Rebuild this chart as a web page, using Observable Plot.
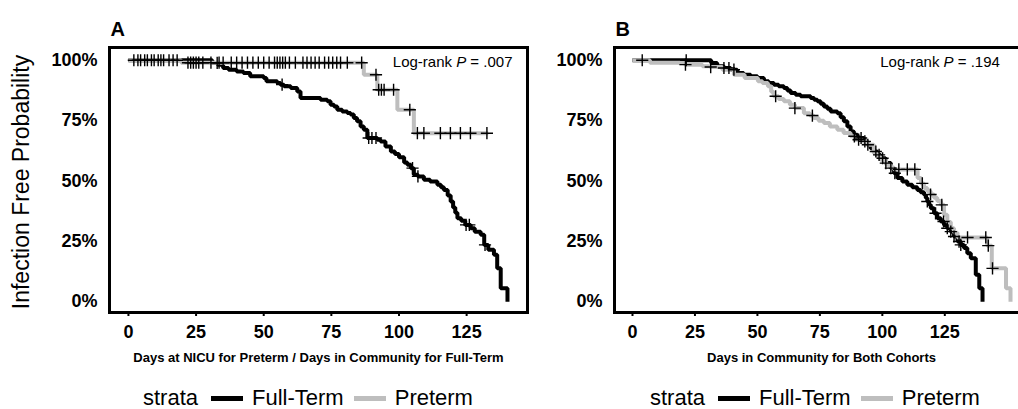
<!DOCTYPE html>
<html><head><meta charset="utf-8">
<script src="https://cdn.jsdelivr.net/npm/d3@7"></script>
<script src="https://cdn.jsdelivr.net/npm/@observablehq/plot@0.6"></script>
<style>
body{margin:0;background:#fff;}
#root{position:relative;width:1018px;height:409px;overflow:hidden;background:#fff;font-family:'Liberation Sans',Arial,sans-serif;}
.panel{position:absolute;top:0;}
.legend{position:absolute;top:387px;height:22px;line-height:22px;font-size:22px;display:flex;align-items:center;white-space:nowrap;color:#000;}
.sw{display:inline-block;width:32px;height:5px;}
.ytitle{position:absolute;left:20.5px;top:182px;font-size:23px;line-height:23px;white-space:nowrap;color:#000;transform:translate(-50%,-50%) rotate(-90deg);}
</style></head><body><div id="root"></div>
<script>
// ---------- data ----------
const strata = ["Full-Term", "Preterm"];
const xTicks = [0, 25, 50, 75, 100, 125];
const yTicks = [0, 0.25, 0.5, 0.75, 1];
const panelLetters = ["A", "B"];
const logRankA = "Log-rank P = .007";
const logRankB = "Log-rank P = .194";
const xTitleA = "Days at NICU for Preterm / Days in Community for Full-Term";
const xTitleB = "Days in Community for Both Cohorts";
const yTitle = "Infection Free Probability";

// Panel A — Full-Term
const ftA_time = [0,31,33,35,37,40,42.5,45,50,51,55,56.2,57.5,60,62.4,63.6,71,73.5,74.7,76,77.2,79,80.9,82.1,83.3,84.5,85.8,87,88.3,92,93.2,95,97,98.5,100,101.9,103.1,104.4,105.5,107,109.2,111.5,114.2,115.5,116.6,118,119.1,120,120.8,121.6,123,124.5,126.5,128,130.2,131.5,133,135.1,136.3,137.6,140.1];
const ftA_surv = [1,0.989,0.982,0.968,0.961,0.954,0.947,0.934,0.927,0.913,0.906,0.899,0.892,0.885,0.871,0.844,0.837,0.83,0.816,0.809,0.795,0.788,0.782,0.775,0.761,0.747,0.726,0.712,0.678,0.671,0.664,0.643,0.622,0.612,0.598,0.577,0.567,0.553,0.526,0.519,0.505,0.498,0.484,0.474,0.463,0.44,0.415,0.39,0.368,0.346,0.335,0.318,0.304,0.29,0.277,0.235,0.215,0.194,0.138,0.055,0];
const ftA_censor = [32.8,56.8,88.8,90,91.5,105,107,124.8,126,131.8];
// Panel A — Preterm
const ptA_time = [0,19.5,87,92,99.4,105.5,133];
const ptA_surv = [1,0.99,0.94,0.878,0.795,0.698,0.698];
const ptA_censor = [2,3.5,4.5,6,7,8.5,9.5,11,12,13,15,16.5,18,22,23,24,25,26,27.5,30.5,33.5,35,38,40,42,44,46,48,50,52,54,55,56,57,58,59.5,61.7,64.5,66,67.5,69,70.5,72.5,74,75.5,77,78.4,80.9,86.2,91.5,92.5,93.5,94.5,98,104,106.8,109.2,115.3,119,122.7,126.4,132.5];

// Panel B — Full-Term
const ftB_time = [0,31.5,33.9,36.6,39.3,41.9,44.5,47.3,50,52.6,54.5,56.6,58.5,60.6,62,63.3,65.3,67.3,71.3,72.7,74,75.3,76.6,78,79.3,82,83.3,84.6,86,87.3,88.6,90,92.6,94,95.3,96.6,98,99.3,101.3,103.4,104.7,106,108,110,112,114,115.3,116.7,117.4,118,118.7,119.4,120.7,122,123.4,124.7,126,127.4,128.7,130.1,131.4,132.7,134,135.4,137.4,138.8,140.1];
const ftB_surv = [1,0.989,0.975,0.968,0.961,0.947,0.94,0.934,0.927,0.913,0.906,0.899,0.892,0.885,0.875,0.864,0.857,0.851,0.844,0.837,0.83,0.82,0.809,0.799,0.788,0.781,0.764,0.747,0.726,0.705,0.692,0.678,0.664,0.65,0.636,0.622,0.608,0.594,0.574,0.553,0.532,0.512,0.498,0.484,0.474,0.463,0.453,0.443,0.429,0.415,0.401,0.387,0.366,0.346,0.332,0.318,0.304,0.29,0.27,0.249,0.235,0.222,0.2,0.18,0.111,0.055,0];
const ftB_censor = [21.5,36.6,38.6,40.6,91.5,94.2,97.4,98.7,100.1,101.4,103.4,105,118,121.3,124.5,126,127.4,128.7,130.7,131.4];
// Panel B — Preterm
const ptB_time = [0,7,21,28,31,36,40.6,44.9,50.2,52,54.2,55.5,56.5,58.5,60.6,63,65,68.6,71,72.5,74.5,76.6,79,82,84.5,87.3,89,92,94,96.6,98,99.3,101.5,103.4,104.7,114.1,115.5,116.7,118,119.3,120.7,122,123.4,124.7,126,127.4,128.7,130.1,142,143.8,149.5,151.3];
const ptB_surv = [1,0.99,0.982,0.975,0.972,0.961,0.94,0.927,0.913,0.906,0.892,0.87,0.851,0.84,0.83,0.816,0.802,0.781,0.771,0.761,0.75,0.74,0.726,0.712,0.699,0.685,0.671,0.664,0.65,0.615,0.601,0.588,0.567,0.556,0.548,0.512,0.49,0.471,0.458,0.444,0.43,0.417,0.401,0.36,0.33,0.304,0.285,0.266,0.232,0.138,0.055,0];
const ptB_censor = [3.9,21.2,31.3,57.3,65,72,88.8,90.5,93,106.6,110,113,116,119.3,123.8,134.1,141.4,142.4,144.1];

// ---------- helpers ----------
const colors = {"Full-Term": "#000000", "Preterm": "#bebebe"};
const curve = (times, surv) => times.map((t, i) => ({t, s: surv[i]}));
const survAt = (times, surv, t) => { let v = surv[0]; for (let i = 0; i < times.length; i++) if (times[i] <= t) v = surv[i]; return v; };
const censorPts = (cens, times, surv) => cens.map(t => ({t, s: survAt(times, surv, t)}));
const FONT = "'Liberation Sans', Arial, sans-serif";

function panel(cfg) {
  const marks = [
    Plot.line(cfg.ft, {x: "t", y: "s", curve: "step-after", stroke: colors["Full-Term"], strokeWidth: 4, strokeLinejoin: "miter", strokeLinecap: "butt"}),
    Plot.line(cfg.pt, {x: "t", y: "s", curve: "step-after", stroke: colors["Preterm"], strokeWidth: 4, strokeLinejoin: "miter", strokeLinecap: "butt"}),
    Plot.dot(cfg.cens, {x: "t", y: "s", symbol: "plus", r: 4, stroke: "#000", strokeWidth: 1.4}),
    Plot.frame({stroke: "#000", strokeWidth: 3}),
    Plot.axisX({ticks: xTicks, tickSize: 4, tickPadding: 9, tickFormat: d => String(d), fontSize: 18, fontWeight: "bold", strokeWidth: 2, label: null}),
    Plot.axisY({ticks: yTicks, tickSize: 0, tickPadding: 12, tickFormat: d => Math.round(d * 100) + "%", fontSize: 18, fontWeight: "bold", label: null}),
    Plot.text([cfg.letter], {frameAnchor: "top-left", text: d => d, dx: 1, dy: -18.4, fontSize: 20, fontWeight: "bold", textAnchor: "start", lineAnchor: "middle"}),
    Plot.text([cfg.lr], {frameAnchor: "top-right", text: d => d, dx: cfg.lrdx, dy: 14.6, fontSize: 15, textAnchor: "end", lineAnchor: "middle"}),
    Plot.text([cfg.xtitle], {frameAnchor: "bottom", text: d => d, dy: 45, fontSize: 13, fontWeight: "bold", lineAnchor: "middle"})
  ];
  const svg = Plot.plot({
    width: cfg.width, height: 370,
    marginLeft: cfg.ml, marginRight: cfg.mr, marginTop: 47, marginBottom: 58,
    x: {domain: cfg.xdom},
    y: {domain: [-0.045, 1.053]},
    style: {fontFamily: FONT, fontSize: "12px", color: "#000", background: "transparent", overflow: "visible"},
    marks
  });
  // italic P in the log-rank note
  d3.select(svg).selectAll("text").filter(function () { return this.textContent === cfg.lr; }).each(function () {
    const parts = cfg.lr.split(" P ");
    const el = d3.select(this); el.text(null);
    el.append("tspan").text(parts[0] + " ");
    el.append("tspan").attr("font-style", "italic").text("P");
    el.append("tspan").text(" " + parts[1]);
  });
  svg.classList.add("panel");
  svg.style.left = cfg.left + "px";
  return svg;
}

function legend(left) {
  const div = document.createElement("div");
  div.className = "legend";
  div.style.left = left + "px";
  const t0 = document.createElement("span"); t0.textContent = "strata"; div.appendChild(t0);
  strata.forEach((s, i) => {
    const sw = document.createElement("span"); sw.className = "sw"; sw.style.background = colors[s];
    sw.style.marginLeft = i === 0 ? "13px" : "10px";
    const tx = document.createElement("span"); tx.textContent = s; tx.style.marginLeft = "9px";
    div.appendChild(sw); div.appendChild(tx);
  });
  return div;
}

const root = document.getElementById("root");
root.appendChild(panel({
  letter: panelLetters[0], lr: logRankA, lrdx: -15, xtitle: xTitleA,
  left: 0, width: 530, ml: 109, mr: 3, xdom: [-7, 147.5],
  ft: curve(ftA_time, ftA_surv), pt: curve(ptA_time, ptA_surv),
  cens: [...censorPts(ftA_censor, ftA_time, ftA_surv), ...censorPts(ptA_censor, ptA_time, ptA_surv)]
}));
root.appendChild(panel({
  letter: panelLetters[1], lr: logRankB, lrdx: -28.6, xtitle: xTitleB,
  left: 540, width: 491, ml: 74, mr: 3, xdom: [-7.2, 158.5],
  ft: curve(ftB_time, ftB_surv), pt: curve(ptB_time, ptB_surv),
  cens: [...censorPts(ftB_censor, ftB_time, ftB_surv), ...censorPts(ptB_censor, ptB_time, ptB_surv)]
}));
const yt = document.createElement("div"); yt.className = "ytitle"; yt.textContent = yTitle; root.appendChild(yt);
root.appendChild(legend(143));
root.appendChild(legend(650));
</script></body></html>
